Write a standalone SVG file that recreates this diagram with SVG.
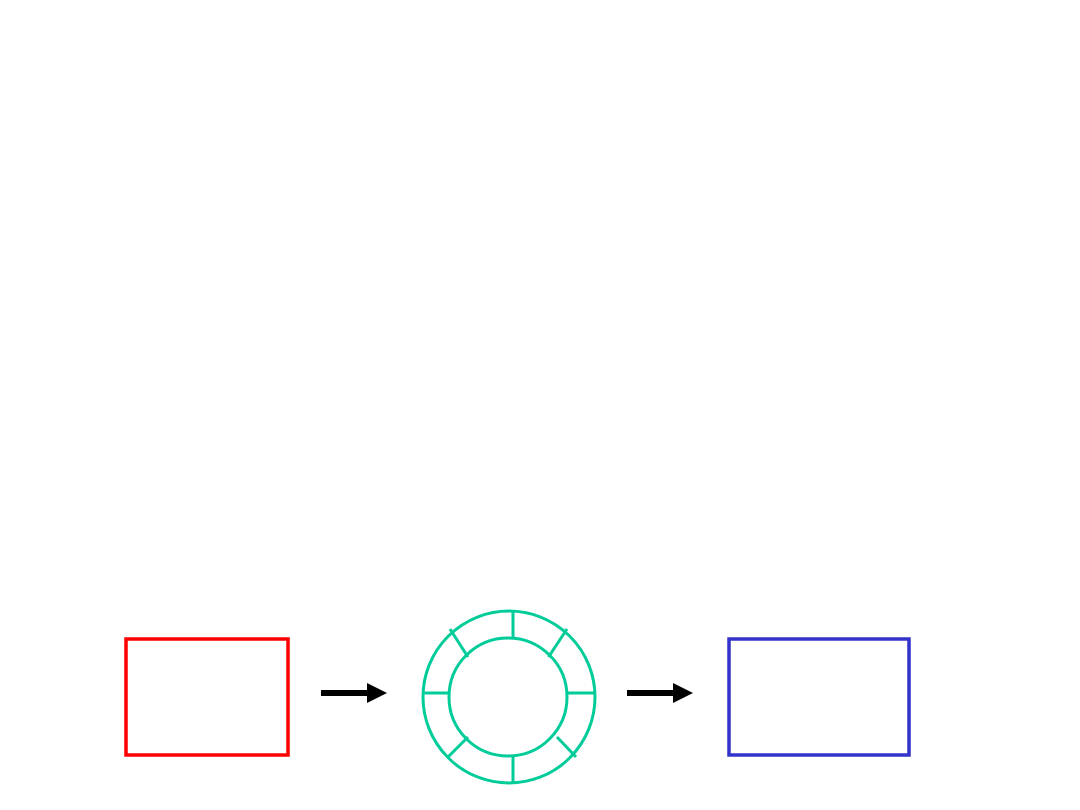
<svg xmlns="http://www.w3.org/2000/svg" width="1080" height="810" viewBox="0 0 1080 810">
  <defs>
    <style>
      .box{fill:none;stroke-width:3.5}
      .ring{fill:none;stroke:#00cc99;stroke-width:3}
      .conn{stroke:#000;stroke-width:6;fill:none}
    </style>
    <marker id="ah" viewBox="0 0 20 20" markerUnits="userSpaceOnUse" markerWidth="20" markerHeight="20" refX="0" refY="10" orient="auto">
      <path d="M0,0 L20,10 L0,20 Z" fill="#000"/>
    </marker>
  </defs>
  <rect width="1080" height="810" fill="#fff"/>
  <g id="source">
    <rect class="box" x="126" y="639" width="162" height="116" stroke="#ff0000"/>
  </g>
  <g id="ring">
    <circle class="ring" cx="509" cy="697" r="86"/>
    <circle class="ring" cx="508" cy="697" r="59"/>
    <line class="ring" x1="513" y1="611" x2="513" y2="639"/>
    <line class="ring" x1="567" y1="629" x2="548.5" y2="657"/>
    <line class="ring" x1="450" y1="629" x2="468" y2="657"/>
    <line class="ring" x1="423" y1="693" x2="449" y2="693"/>
    <line class="ring" x1="567" y1="693" x2="595" y2="693"/>
    <line class="ring" x1="448" y1="757" x2="468" y2="737"/>
    <line class="ring" x1="557" y1="737" x2="576" y2="757"/>
    <line class="ring" x1="513" y1="756" x2="513" y2="783"/>
  </g>
  <g id="target">
    <rect class="box" x="729" y="639" width="180" height="116" stroke="#3333cc"/>
  </g>
  <g id="connectors">
    <line class="conn" x1="321" y1="693" x2="367" y2="693" marker-end="url(#ah)"/>
    <line class="conn" x1="627" y1="693" x2="673" y2="693" marker-end="url(#ah)"/>
  </g>
</svg>
